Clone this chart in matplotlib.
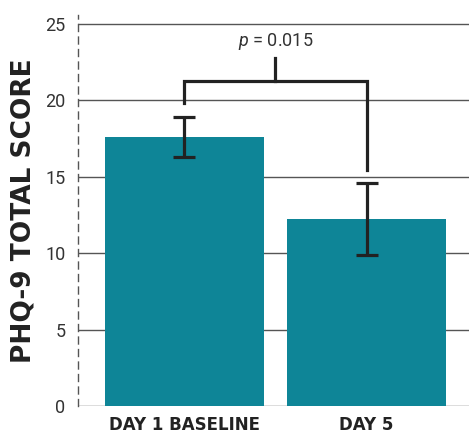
import matplotlib
matplotlib.use('Agg')
import matplotlib.pyplot as plt

categories = ['DAY 1 BASELINE', 'DAY 5']
means = [17.6, 12.25]
errors = [1.3, 2.35]
yticks = [0, 5, 10, 15, 20, 25]
p_text = '$p$ = 0.015'

plt.rcParams['mathtext.fontset'] = 'custom'
plt.rcParams['mathtext.it'] = 'Roboto:italic'
plt.rcParams['mathtext.rm'] = 'Roboto'

fig = plt.figure(figsize=(4.69, 4.38), dpi=100)
ax = fig.add_axes([0.1663, 0.0731, 0.8337, 0.893])

x = [0, 1]
ax.bar(x, means, width=0.874, color='#0E8597', zorder=2)
ax.errorbar(x, means, yerr=errors, fmt='none', ecolor='#222222',
            elinewidth=2.3, capsize=8, capthick=2.3, zorder=3)

# significance bracket
ax.plot([0, 0, 1, 1], [19.8, 21.3, 21.3, 15.45], color='#222222',
        lw=2.3, solid_joinstyle='miter', zorder=3)
ax.plot([0.5, 0.5], [21.3, 22.8], color='#222222', lw=2.3, zorder=3)
ax.text(0.5, 23.15, p_text, ha='center', va='bottom', fontsize=13,
        color='#333333', family='Roboto')

ax.set_xlim(-0.585, 1.563)
ax.set_ylim(0, 25.6)
ax.set_yticks(yticks)
ax.set_xticks(x)
ax.set_xticklabels(categories, fontsize=12, fontweight='bold',
                   color='#222222', family='DejaVu Sans')
ax.tick_params(axis='y', length=0, pad=9, labelsize=13, labelcolor='#333333')
ax.tick_params(axis='x', length=0, pad=7)
for lab in ax.get_yticklabels():
    lab.set_family('Roboto')

ax.yaxis.grid(True, color='#555555', lw=1.0, zorder=0)
ax.set_axisbelow(True)
for s in ['top', 'right', 'bottom']:
    ax.spines[s].set_visible(False)
ax.spines['left'].set_linestyle((0, (5, 4)))
ax.spines['left'].set_color('#555555')
ax.spines['left'].set_linewidth(1.0)

ax.set_ylabel('PHQ-9 TOTAL SCORE', fontsize=19, fontweight='bold',
              color='#222222', labelpad=6, family='DejaVu Sans')

plt.savefig('out.png', dpi=100)
